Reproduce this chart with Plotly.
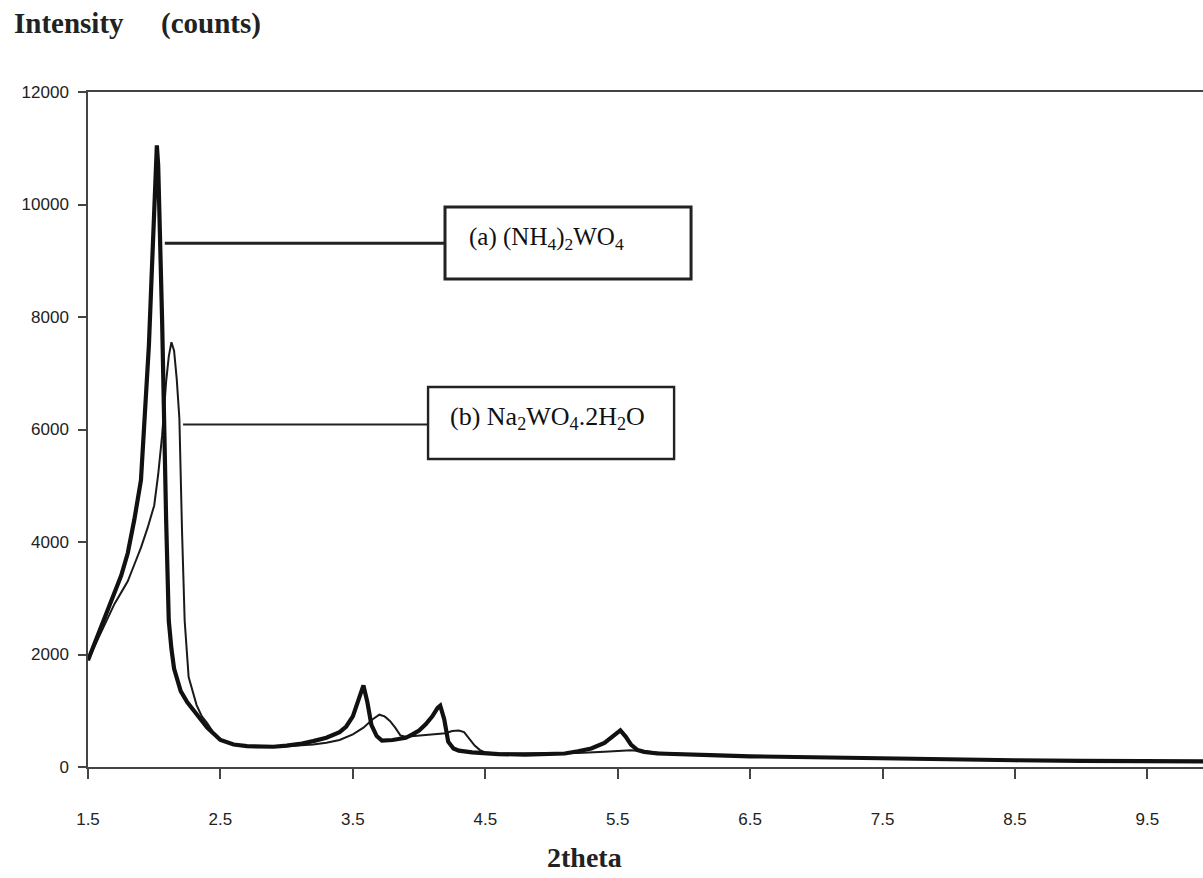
import plotly.graph_objects as go

# Series (a) (NH4)2WO4 - thick line
a_x = [1.5,1.55,1.6,1.65,1.7,1.75,1.8,1.85,1.9,1.93,1.96,1.98,2.0,2.02,2.03,2.045,2.06,2.09,2.11,2.13,
       2.15,2.2,2.25,2.3,2.4,2.5,2.6,2.7,2.8,2.9,3.0,3.1,3.2,3.3,3.4,3.45,3.5,3.54,3.58,3.61,
       3.64,3.68,3.72,3.8,3.9,3.95,4.0,4.05,4.1,4.14,4.16,4.19,4.22,4.26,4.3,4.4,4.5,4.6,4.8,5.0,
       5.1,5.2,5.3,5.4,5.45,5.52,5.56,5.6,5.65,5.7,5.8,6.0,6.2,6.5,7.0,7.5,8.0,8.5,9.0,9.5,9.92]
a_y = [1900,2200,2500,2750,3050,3400,3800,4400,5100,6200,7500,8700,10000,11050,10700,9400,7900,4400,2600,2100,
       1750,1350,1150,1000,700,480,400,370,360,360,380,410,460,520,620,720,900,1150,1450,1150,
       750,550,470,480,520,580,650,760,900,1050,1090,850,450,330,290,260,240,230,220,230,
       240,280,330,430,520,650,540,400,300,270,240,220,210,190,170,160,140,120,110,110,100]

# Series (b) Na2WO4.2H2O - thin line
b_x = [1.5,1.55,1.6,1.65,1.7,1.75,1.8,1.85,1.9,1.95,2.0,2.03,2.06,2.09,2.11,2.13,2.15,2.17,2.19,2.21,
       2.23,2.26,2.29,2.32,2.36,2.4,2.45,2.5,2.6,2.8,3.0,3.2,3.3,3.4,3.5,3.58,3.65,3.7,3.74,3.78,
       3.82,3.86,3.9,4.0,4.1,4.2,4.25,4.3,4.34,4.38,4.42,4.46,4.5,4.6,4.8,5.0,5.2,5.4,5.6,5.8,
       6.0,6.5,7.0,7.5,8.0,8.5,9.0,9.5,9.92]
b_y = [1900,2150,2400,2650,2900,3100,3300,3600,3900,4250,4650,5200,5900,6850,7300,7550,7400,6900,6200,4200,
       2600,1600,1350,1100,900,780,600,480,390,360,370,400,430,480,580,700,850,930,900,820,
       700,560,540,560,580,600,640,650,620,500,380,300,260,240,240,240,250,270,300,260,
       230,190,170,150,130,115,110,100,95]

x_ticks = [1.5, 2.5, 3.5, 4.5, 5.5, 6.5, 7.5, 8.5, 9.5]
y_ticks = [0, 2000, 4000, 6000, 8000, 10000, 12000]

fig = go.Figure()
fig.add_trace(go.Scatter(x=b_x, y=b_y, mode="lines", line=dict(color="#1a1a1a", width=2.0),
                         name="(b)", showlegend=False))
fig.add_trace(go.Scatter(x=a_x, y=a_y, mode="lines", line=dict(color="#111111", width=4.2),
                         name="(a)", showlegend=False))

serif = "Liberation Serif, Times New Roman, serif"
sans = "Liberation Sans, Arial, sans-serif"

# Leader lines and label boxes
fig.add_shape(type="line", x0=2.08, x1=4.196, y0=9310, y1=9310, line=dict(color="#222", width=3))
fig.add_shape(type="rect", x0=4.196, x1=6.054, y0=8676, y1=9956, line=dict(color="#222", width=3),
              fillcolor="rgba(255,255,255,0)")
fig.add_shape(type="line", x0=2.218, x1=4.068, y0=6090, y1=6090, line=dict(color="#222", width=2))
fig.add_shape(type="rect", x0=4.068, x1=5.926, y0=5476, y1=6756, line=dict(color="#222", width=2.4),
              fillcolor="rgba(255,255,255,0)")

fig.add_annotation(x=4.36, y=9400, xref="x", yref="y", xanchor="left", yanchor="middle",
                   text="(a) (NH<sub>4</sub>)<sub>2</sub>WO<sub>4</sub>", showarrow=False,
                   font=dict(family=serif, size=25, color="#111"))
fig.add_annotation(x=4.215, y=6200, xref="x", yref="y", xanchor="left", yanchor="middle",
                   text="(b) Na<sub>2</sub>WO<sub>4</sub>.2H<sub>2</sub>O", showarrow=False,
                   font=dict(family=serif, size=26, color="#111"))

W, H = 1203, 878
ml, mr, mt, mb = 88, 0, 92, 111

def px_x(p):
    return (p - ml) / (W - ml - mr)

def px_y(p):
    return 1 - (p - mt) / (H - mt - mb)

# Titles
fig.add_annotation(x=px_x(12), y=px_y(23), xref="paper", yref="paper", text="<b>Intensity</b>",
                   showarrow=False, font=dict(family=serif, size=29, color="#222"),
                   xanchor="left", yanchor="middle")
fig.add_annotation(x=px_x(159), y=px_y(23), xref="paper", yref="paper", text="<b>(counts)</b>",
                   showarrow=False, font=dict(family=serif, size=29, color="#222"),
                   xanchor="left", yanchor="middle")
fig.add_annotation(x=5.246, y=px_y(857), xref="x", yref="paper", text="<b>2theta</b>",
                   showarrow=False, font=dict(family=serif, size=28, color="#222"),
                   xanchor="center", yanchor="middle")

fig.update_layout(
    width=W, height=H,
    margin=dict(l=ml, r=mr, t=mt, b=mb),
    plot_bgcolor="white", paper_bgcolor="white",
    showlegend=False,
)
fig.update_xaxes(range=[1.5, 9.92], tickvals=x_ticks, ticktext=[str(v) for v in x_ticks],
                 showgrid=False, zeroline=False, showline=True, linecolor="#444", linewidth=1.5,
                 mirror=True, ticks="outside", ticklen=10, tickcolor="#444", tickwidth=1.5,
                 ticklabelstandoff=26, tickfont=dict(family=sans, size=17, color="#222"))
fig.update_yaxes(range=[0, 12000], tickvals=y_ticks, ticktext=[str(v) for v in y_ticks],
                 showgrid=False, zeroline=False, showline=True, linecolor="#444", linewidth=1.5,
                 ticks="outside", ticklen=8, tickcolor="#444", tickwidth=1.5,
                 ticklabelstandoff=6, tickfont=dict(family=sans, size=17, color="#222"))

fig.write_html("out.html")
